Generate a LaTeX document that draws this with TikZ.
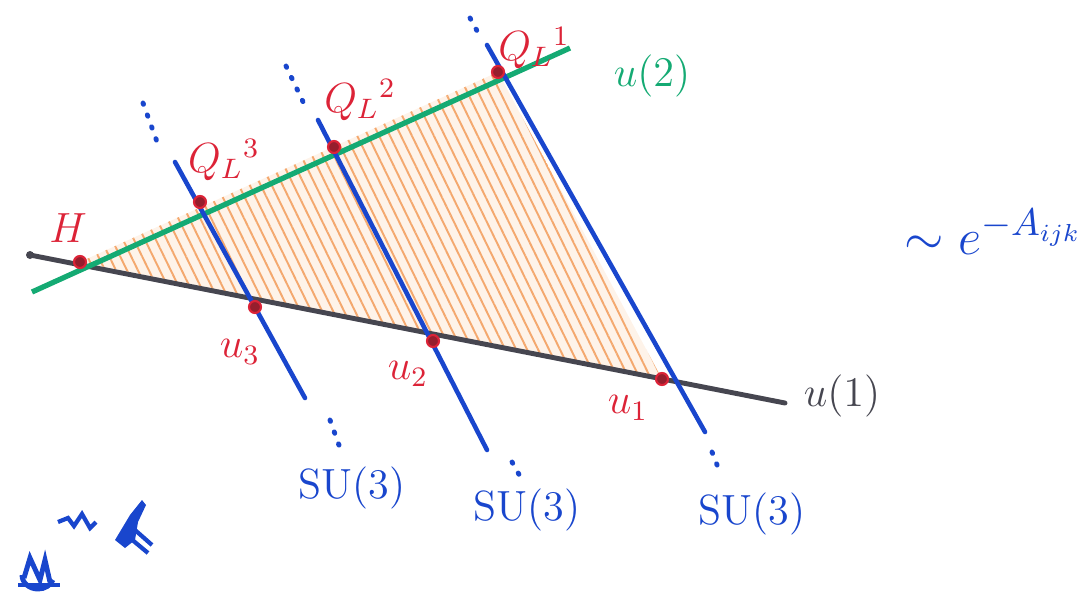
\documentclass[tikz,border=0pt]{standalone}
\usepackage{amsmath}
\usepackage{tikz}
\usetikzlibrary{patterns.meta, calc}
\definecolor{myred}{RGB}{220,35,55}
\definecolor{mydot}{RGB}{150,30,45}
\definecolor{mygreen}{RGB}{20,170,115}
\definecolor{myblue}{RGB}{25,70,205}
\definecolor{mydark}{RGB}{70,70,80}
\definecolor{myorange}{RGB}{244,168,110}
\definecolor{hdrorange}{RGB}{253,238,224}
\tikzset{
  ptdot/.style={circle, draw=myred, fill=mydot, inner sep=0pt,
    minimum size=0.12cm, line width=0.6pt},
  redlbl/.style={font=\large, color=myred, inner sep=0pt},
  bluelbl/.style={font=\large, color=myblue, inner sep=0pt},
  suline/.style={myblue, line width=1.3pt, line cap=round},
  sudots/.style={myblue, line width=1.4pt, dash pattern=on 0.4pt off 3.2pt,
    line cap=round},
  hatch/.style={pattern={Lines[angle=116, distance=2.8pt, line width=0.55pt]},
    pattern color=myorange}
}

\begin{document}
\begin{tikzpicture}[x=0.01cm, y=-0.01cm]
  \useasboundingbox (0,0) rectangle (1080,594);
  % intersection points
  \coordinate (H) at (80,262);
  \coordinate (Q3) at (200,202);
  \coordinate (Q2) at (334,147);
  \coordinate (Q1) at (498,72);
  \coordinate (u3) at (255,307);
  \coordinate (u2) at (433,341);
  \coordinate (u1) at (662,379);
  % hatched region
  \fill[hdrorange, opacity=0.7] (H) -- (Q1) -- (u1) -- cycle;
  \fill[hatch] (H) -- (Q1) -- (u1) -- cycle;
  % u(1) and u(2) lines
  \coordinate (blA) at (30,255);
  \coordinate (blB) at (785,403);
  \draw[mydark, line width=1.4pt, line cap=round] (blA) -- (blB);
  \fill[mydark] (blA) circle (4);
  \coordinate (grA) at (32,292);
  \coordinate (grB) at (570,48);
  \draw[mygreen, line width=1.5pt] (grA) -- (grB);
  % SU(3) lines with dotted ends
  \coordinate (s3a) at (175,162);
  \coordinate (s3b) at (305,398);
  \coordinate (s2a) at (318,120);
  \coordinate (s2b) at (487,450);
  \coordinate (s1a) at (487,45);
  \coordinate (s1b) at (705,432);
  \draw[suline] (s3a) -- (s3b);
  \draw[suline] (s2a) -- (s2b);
  \draw[suline] (s1a) -- (s1b);
  \draw[sudots] (143,103) -- (160,150);
  \draw[sudots] (286,66) -- (306,108);
  \draw[sudots] (470,18) -- (482,40);
  \draw[sudots] (330,420) -- (340,448);
  \draw[sudots] (512,462) -- (521,478);
  \draw[sudots] (712,452) -- (719,470);
  % points
  \foreach \p in {H,Q3,Q2,Q1,u3,u2,u1}
    \node[ptdot] (d\p) at (\p) {};
  % labels
  \node[redlbl] (lH) at (68,228) {$H$};
  \node[redlbl] (lQ3) at (224,160) {$Q_L{}^{3}$};
  \node[redlbl] (lQ2) at (360,100) {$Q_L{}^{2}$};
  \node[redlbl] (lQ1) at (534,48) {$Q_L{}^{1}$};
  \node[redlbl] (lu3) at (240,352) {$u_3$};
  \node[redlbl] (lu2) at (408,374) {$u_2$};
  \node[redlbl] (lu1) at (628,408) {$u_1$};
  \node[font=\large, color=mygreen, inner sep=0pt] (lg) at (652,76) {$u(2)$};
  \node[font=\large, color=mydark, inner sep=0pt] (lb) at (842,396) {$u(1)$};
  \node[bluelbl] (su3) at (352,488) {SU(3)};
  \node[bluelbl] (su2) at (527,510) {SU(3)};
  \node[bluelbl] (su1) at (752,514) {SU(3)};
  \node[color=myblue, font=\fontsize{15}{18}\selectfont, inner sep=0pt,
    anchor=west] (eA) at (904,232) {$\sim e^{-A_{ijk}}$};
  % scribble bottom left
  \draw[myblue, line width=1.4pt] (22,575) arc (180:20:16 and 14);
  \draw[myblue, line width=1.4pt] (24,578) -- (30,558) -- (40,580) -- (45,560) -- (50,582);
  \draw[myblue, line width=1.4pt] (18,585) -- (60,585);
  \draw[myblue, line width=1.2pt] (58,522) -- (68,518) -- (74,526) -- (82,514) -- (90,528) -- (96,522);
  \fill[myblue] (115,540) -- (130,515) -- (142,500) -- (146,505) -- (138,522) -- (135,540) -- (125,548) -- cycle;
  \draw[myblue, line width=1.2pt] (135,530) -- (152,545);
  \draw[myblue, line width=1.2pt] (130,538) -- (148,553);
\end{tikzpicture}
\end{document}
